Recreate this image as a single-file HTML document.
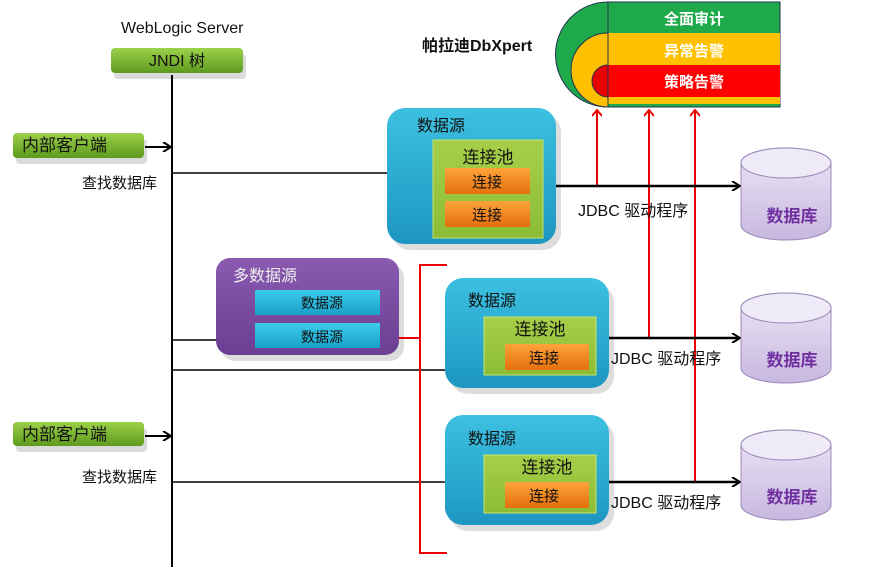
<!DOCTYPE html>
<html><head><meta charset="utf-8"><style>
html,body{margin:0;padding:0;background:#fff;}
svg{display:block;}
text{font-family:"Liberation Sans","Noto Sans CJK SC",sans-serif;}
</style></head><body>
<svg width="882" height="567" viewBox="0 0 882 567" xmlns="http://www.w3.org/2000/svg">
<defs>
<linearGradient id="gr" x1="0" y1="0" x2="0" y2="1"><stop offset="0" stop-color="#9cd14a"/><stop offset="1" stop-color="#5d9a1e"/></linearGradient>
<linearGradient id="bl" x1="0" y1="0" x2="0" y2="1"><stop offset="0" stop-color="#3cc0e0"/><stop offset="1" stop-color="#1d96c2"/></linearGradient>
<linearGradient id="pool" x1="0" y1="0" x2="0" y2="1"><stop offset="0" stop-color="#a6cf48"/><stop offset="1" stop-color="#8cbc36"/></linearGradient>
<linearGradient id="or" x1="0" y1="0" x2="0" y2="1"><stop offset="0" stop-color="#ffa43a"/><stop offset="1" stop-color="#e56f0c"/></linearGradient>
<linearGradient id="db" x1="0" y1="0" x2="0" y2="1"><stop offset="0" stop-color="#ece6f6"/><stop offset="1" stop-color="#c8b8e0"/></linearGradient>
<linearGradient id="pu" x1="0" y1="0" x2="0" y2="1"><stop offset="0" stop-color="#8a5bb0"/><stop offset="1" stop-color="#6a3e92"/></linearGradient>
<linearGradient id="ib" x1="0" y1="0" x2="0" y2="1"><stop offset="0" stop-color="#3ccbea"/><stop offset="1" stop-color="#1aa0c8"/></linearGradient>
<marker id="ab" markerWidth="10" markerHeight="10" refX="9" refY="5" orient="auto" markerUnits="userSpaceOnUse"><path d="M1,0 L9,5 L1,10" fill="none" stroke="#000" stroke-width="2"/></marker>
<marker id="ar" markerWidth="10" markerHeight="10" refX="5" refY="1" orient="0" markerUnits="userSpaceOnUse"><path d="M0,7 L5,1 L10,7" fill="none" stroke="#e00" stroke-width="2"/></marker>
</defs>

<text x="121" y="33" font-size="16" fill="#111">WebLogic  Server</text>
<rect x="114" y="54" width="132" height="25" rx="4" fill="#999" opacity="0.35"/>
<rect x="111" y="48" width="132" height="25" rx="4" fill="url(#gr)"/>
<text x="177" y="66" font-size="16" text-anchor="middle" fill="#111">JNDI  树</text>
<line x1="172" y1="75" x2="172" y2="567" stroke="#000" stroke-width="2"/>

<rect x="16" y="139" width="131" height="25" rx="4" fill="#999" opacity="0.35"/>
<rect x="13" y="133" width="131" height="25" rx="4" fill="url(#gr)"/>
<text x="22" y="151" font-size="17" fill="#111">内部客户端</text>
<line x1="145" y1="147" x2="171" y2="147" stroke="#000" stroke-width="2" marker-end="url(#ab)"/>
<text x="82" y="188" font-size="15" fill="#111">查找数据库</text>
<line x1="172" y1="173" x2="387" y2="173" stroke="#000" stroke-width="1.5"/>

<rect x="16" y="428" width="131" height="24" rx="4" fill="#999" opacity="0.35"/>
<rect x="13" y="422" width="131" height="24" rx="4" fill="url(#gr)"/>
<text x="22" y="440" font-size="17" fill="#111">内部客户端</text>
<line x1="145" y1="436" x2="171" y2="436" stroke="#000" stroke-width="2" marker-end="url(#ab)"/>
<text x="82" y="482" font-size="15" fill="#111">查找数据库</text>
<line x1="172" y1="482" x2="446" y2="482" stroke="#000" stroke-width="1.5"/>
<line x1="172" y1="340" x2="216" y2="340" stroke="#000" stroke-width="1.5"/>
<line x1="172" y1="370" x2="446" y2="370" stroke="#000" stroke-width="1.5"/>

<text x="422" y="51" font-size="16" font-weight="bold" fill="#111">帕拉迪DbXpert</text>
<path d="M608,2 A52,52 0 0 0 608,107 Z" fill="#1eaa4a" stroke="#235" stroke-width="1"/>
<path d="M608,33 A37,37 0 0 0 608,107 Z" fill="#ffc000" stroke="#235" stroke-width="1"/>
<path d="M608,65 A16,16 0 0 0 608,97 Z" fill="#e60000" stroke="#235" stroke-width="1"/>
<rect x="608" y="2" width="172" height="105" fill="#1eaa4a" stroke="#235" stroke-width="1"/>
<rect x="608" y="33" width="172" height="71" fill="#ffc000"/>
<rect x="608" y="65" width="172" height="32" fill="#ff0000"/>
<line x1="608" y1="2" x2="608" y2="107" stroke="#235" stroke-width="1"/>
<text x="694" y="24" font-size="15" font-weight="bold" fill="#fff" text-anchor="middle">全面审计</text>
<text x="694" y="56" font-size="15" font-weight="bold" fill="#fff" text-anchor="middle">异常告警</text>
<text x="694" y="87" font-size="15" font-weight="bold" fill="#fff" text-anchor="middle">策略告警</text>

<line x1="597" y1="186" x2="597" y2="110" stroke="#e00" stroke-width="2" marker-end="url(#ar)"/>
<line x1="649" y1="338" x2="649" y2="110" stroke="#e00" stroke-width="2" marker-end="url(#ar)"/>
<line x1="695" y1="482" x2="695" y2="110" stroke="#e00" stroke-width="2" marker-end="url(#ar)"/>

<rect x="392" y="114" width="169" height="136" rx="18" fill="#aaa" opacity="0.4"/>
<rect x="387" y="108" width="169" height="136" rx="18" fill="url(#bl)"/>
<text x="417" y="131" font-size="16" fill="#111">数据源</text>
<rect x="433" y="140" width="110" height="98" fill="url(#pool)" stroke="#c6e46a"/>
<text x="488" y="163" font-size="17" text-anchor="middle" fill="#111">连接池</text>
<rect x="445" y="168" width="85" height="26" fill="url(#or)"/>
<text x="487" y="187" font-size="15" text-anchor="middle" fill="#111">连接</text>
<rect x="445" y="201" width="85" height="26" fill="url(#or)"/>
<text x="487" y="220" font-size="15" text-anchor="middle" fill="#111">连接</text>
<line x1="556" y1="186" x2="740" y2="186" stroke="#000" stroke-width="2.5" marker-end="url(#ab)"/>
<text x="578" y="216" font-size="16" fill="#111">JDBC  驱动程序</text>

<rect x="221" y="264" width="183" height="97" rx="14" fill="#aaa" opacity="0.4"/>
<rect x="216" y="258" width="183" height="97" rx="14" fill="url(#pu)"/>
<text x="233" y="281" font-size="16" fill="#eee">多数据源</text>
<rect x="255" y="290" width="125" height="25" fill="url(#ib)"/>
<text x="322" y="308" font-size="14" text-anchor="middle" fill="#111">数据源</text>
<rect x="255" y="323" width="125" height="25" fill="url(#ib)"/>
<text x="322" y="342" font-size="14" text-anchor="middle" fill="#111">数据源</text>
<line x1="399" y1="338" x2="420" y2="338" stroke="#e00" stroke-width="2"/>
<path d="M447,265 L420,265 L420,553 L447,553" fill="none" stroke="#e00" stroke-width="2"/>

<rect x="450" y="284" width="164" height="110" rx="18" fill="#aaa" opacity="0.4"/>
<rect x="445" y="278" width="164" height="110" rx="18" fill="url(#bl)"/>
<text x="468" y="306" font-size="16" fill="#111">数据源</text>
<rect x="484" y="317" width="112" height="58" fill="url(#pool)" stroke="#c6e46a"/>
<text x="540" y="335" font-size="17" text-anchor="middle" fill="#111">连接池</text>
<rect x="505" y="344" width="84" height="26" fill="url(#or)"/>
<text x="544" y="363" font-size="15" text-anchor="middle" fill="#111">连接</text>
<line x1="609" y1="338" x2="740" y2="338" stroke="#000" stroke-width="2.5" marker-end="url(#ab)"/>
<text x="611" y="364" font-size="16" fill="#111">JDBC  驱动程序</text>

<rect x="450" y="421" width="164" height="110" rx="18" fill="#aaa" opacity="0.4"/>
<rect x="445" y="415" width="164" height="110" rx="18" fill="url(#bl)"/>
<text x="468" y="444" font-size="16" fill="#111">数据源</text>
<rect x="484" y="455" width="112" height="58" fill="url(#pool)" stroke="#c6e46a"/>
<text x="547" y="473" font-size="17" text-anchor="middle" fill="#111">连接池</text>
<rect x="505" y="482" width="84" height="26" fill="url(#or)"/>
<text x="544" y="501" font-size="15" text-anchor="middle" fill="#111">连接</text>
<line x1="609" y1="482" x2="740" y2="482" stroke="#000" stroke-width="2.5" marker-end="url(#ab)"/>
<text x="611" y="508" font-size="16" fill="#111">JDBC  驱动程序</text>

<g fill="url(#db)" stroke="#9a88b8" stroke-width="1">
<path d="M741,163 A45,15 0 0 1 831,163 L831,225 A45,15 0 0 1 741,225 Z"/>
<ellipse cx="786" cy="163" rx="45" ry="15" fill="#efeaf8"/>
<path d="M741,308 A45,15 0 0 1 831,308 L831,368 A45,15 0 0 1 741,368 Z"/>
<ellipse cx="786" cy="308" rx="45" ry="15" fill="#efeaf8"/>
<path d="M741,445 A45,15 0 0 1 831,445 L831,505 A45,15 0 0 1 741,505 Z"/>
<ellipse cx="786" cy="445" rx="45" ry="15" fill="#efeaf8"/>
</g>
<text x="792" y="222" font-size="17" font-weight="bold" fill="#7030a0" text-anchor="middle">数据库</text>
<text x="792" y="366" font-size="17" font-weight="bold" fill="#7030a0" text-anchor="middle">数据库</text>
<text x="792" y="503" font-size="17" font-weight="bold" fill="#7030a0" text-anchor="middle">数据库</text>
</svg>
</body></html>
